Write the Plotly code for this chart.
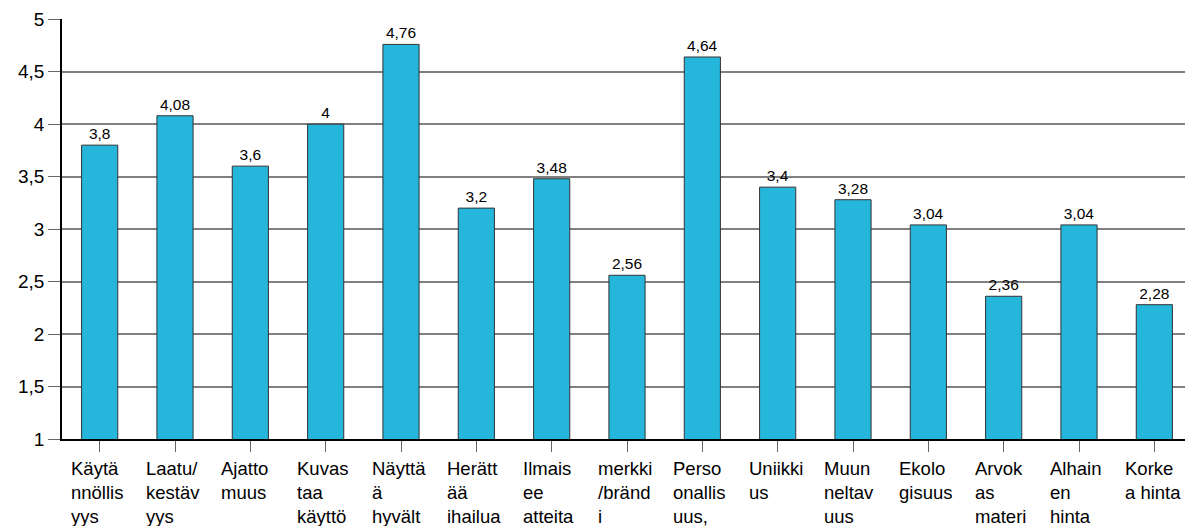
import plotly.graph_objects as go

categories = ["Käytä<br>nnöllis<br>yys", "Laatu/<br>kestäv<br>yys", "Ajatto<br>muus",
              "Kuvas<br>taa<br>käyttö", "Näyttä<br>ä<br>hyvält", "Herätt<br>ää<br>ihailua",
              "Ilmais<br>ee<br>atteita", "merkki<br>/bränd<br>i", "Perso<br>onallis<br>uus,",
              "Uniikki<br>us", "Muun<br>neltav<br>uus", "Ekolo<br>gisuus",
              "Arvok<br>as<br>materi", "Alhain<br>en<br>hinta", "Korke<br>a hinta"]
values = [3.8, 4.08, 3.6, 4, 4.76, 3.2, 3.48, 2.56, 4.64, 3.4, 3.28, 3.04, 2.36, 3.04, 2.28]
y_ticks = [1, 1.5, 2, 2.5, 3, 3.5, 4, 4.5, 5]

labels = [("%g" % v).replace(".", ",") for v in values]
FONT = "Liberation Sans, Arial, sans-serif"

fig = go.Figure(go.Bar(
    x=list(range(len(categories))), y=values,
    marker=dict(color="#25B6DB", line=dict(color="#333333", width=1)),
    text=labels, textposition="outside", cliponaxis=False,
    textfont=dict(size=15.5, color="black", family=FONT),
))

for i, c in enumerate(categories):
    fig.add_annotation(x=i, y=0, xref="x", yref="paper", text=c, showarrow=False,
                       xanchor="left", yanchor="top", align="left", xshift=-31, yshift=-17,
                       font=dict(size=18.5, color="black", family=FONT))

fig.update_layout(
    width=1185, height=518,
    margin=dict(l=54, r=1, t=9, b=87),
    plot_bgcolor="white", paper_bgcolor="white",
    separators=", ",
    bargap=0.52,
    showlegend=False,
    font=dict(family=FONT, color="black"),
)
fig.update_xaxes(range=[-0.5, len(categories) - 0.5], showticklabels=False,
                 tickmode="array", tickvals=list(range(len(categories))), tickson="boundaries",
                 ticks="outside", ticklen=11, tickcolor="#666666", tickwidth=1,
                 showline=True, linecolor="black", linewidth=1.5, showgrid=False)
fig.update_yaxes(range=[1, 5.002], tickvals=y_ticks, ticks="outside", ticklen=12, tickcolor="#666666",
                 ticklabeloverflow="allow",
                 showline=True, linecolor="black", linewidth=1.5,
                 showgrid=True, gridcolor="#808080", gridwidth=1.5, zeroline=False,
                 tickfont=dict(size=19, color="black", family=FONT))

fig.write_html("out.html")
